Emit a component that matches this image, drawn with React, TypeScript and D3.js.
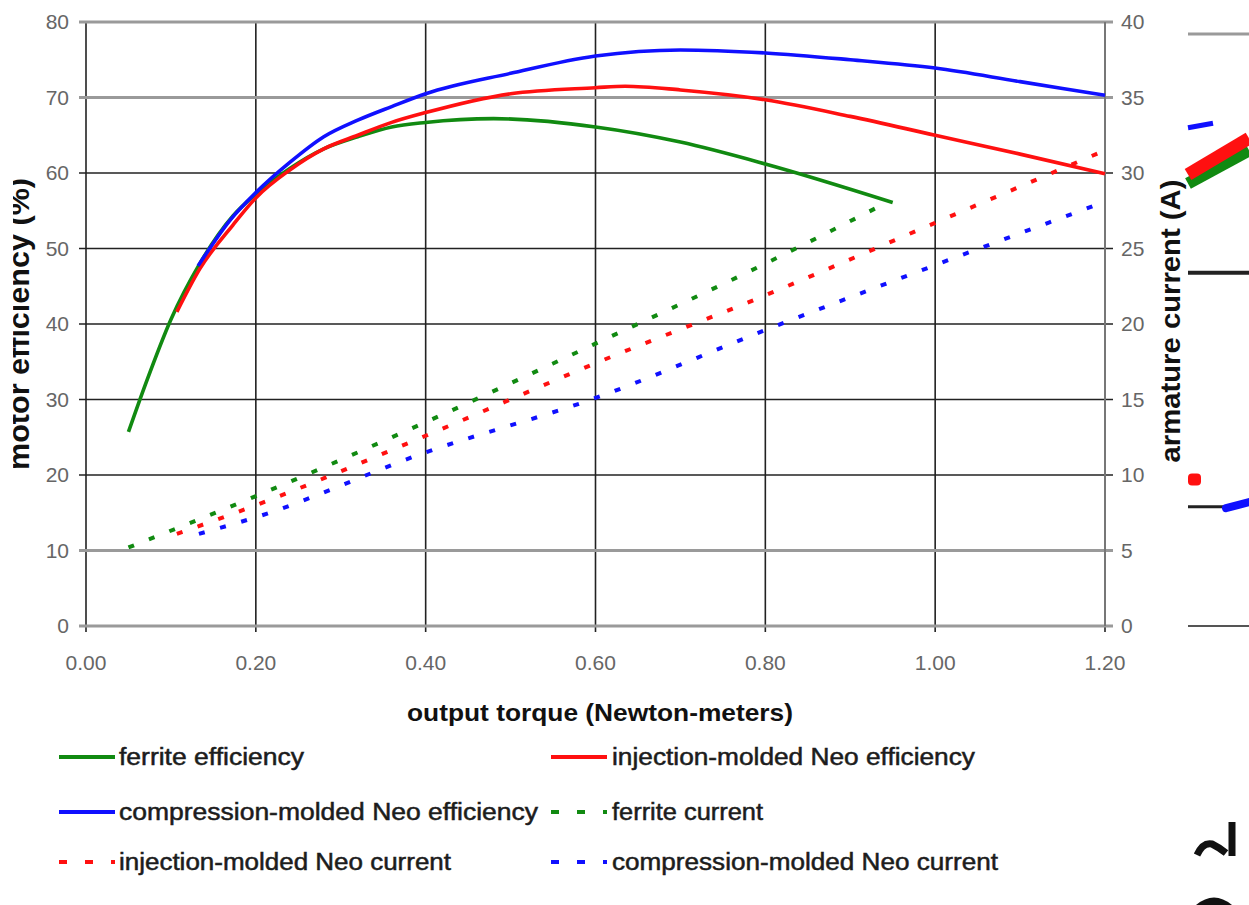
import React from 'react';
import * as d3 from 'd3';

// ---- data ----
const X_TICKS = [0, 0.2, 0.4, 0.6, 0.8, 1.0, 1.2];
const EFF_TICKS = [0, 10, 20, 30, 40, 50, 60, 70, 80];
const CUR_TICKS = [0, 5, 10, 15, 20, 25, 30, 35, 40];

const ferriteEffX = [0.05, 0.07, 0.1, 0.134, 0.173, 0.2, 0.24, 0.28, 0.32, 0.36, 0.4, 0.48, 0.6, 0.7, 0.8, 0.95];
const ferriteEff = [25.7, 32.0, 40.6, 48.0, 54.3, 57.2, 60.6, 63.2, 64.8, 66.1, 66.7, 67.2, 66.1, 64.1, 61.2, 56.1];

const injEffX = [0.107, 0.134, 0.173, 0.2, 0.24, 0.28, 0.32, 0.36, 0.4, 0.5, 0.6, 0.635, 0.7, 0.8, 0.9, 1.0, 1.1, 1.2];
const injEff = [41.6, 47.3, 53.1, 56.7, 60.4, 63.2, 65.0, 66.7, 68.0, 70.5, 71.3, 71.5, 71.0, 69.7, 67.5, 65.0, 62.5, 59.9];

const compEffX = [0.132, 0.17, 0.2, 0.24, 0.28, 0.32, 0.36, 0.4, 0.5, 0.6, 0.7, 0.8, 0.9, 1.0, 1.1, 1.2];
const compEff = [47.7, 53.8, 57.4, 61.4, 64.8, 67.0, 68.8, 70.5, 73.2, 75.5, 76.3, 75.9, 75.0, 73.9, 72.1, 70.3];

const ferriteCurX = [0.05, 0.2, 0.4, 0.6, 0.8, 0.945];
const ferriteCur = [5.2, 8.6, 13.5, 18.7, 24.0, 28.1];
const injCurX = [0.107, 0.2, 0.4, 0.6, 0.8, 1.0, 1.2];
const injCur = [6.1, 8.0, 12.6, 17.4, 21.9, 26.7, 31.5];
const compCurX = [0.133, 0.2, 0.4, 0.6, 0.8, 1.0, 1.2];
const compCur = [6.1, 7.2, 11.5, 15.1, 19.6, 23.9, 28.1];

const LEGEND = [
  'ferrite efficiency',
  'injection-molded Neo efficiency',
  'compression-molded Neo efficiency',
  'ferrite current',
  'injection-molded Neo current',
  'compression-molded Neo current',
];

const GREEN = '#118a11';
const RED = '#ff1010';
const BLUE = '#1010ff';
const FONT = "'Liberation Sans', Arial, sans-serif";

const W = 1249;
const H = 905;

const x = d3.scaleLinear().domain([0, 1.2]).range([86, 1105]);
const yL = d3.scaleLinear().domain([0, 80]).range([626, 22]);
const yR = d3.scaleLinear().domain([0, 40]).range([626, 22]);

const zip = (xs: number[], ys: number[]) => xs.map((v, i) => [v, ys[i]] as [number, number]);

const effLine = d3.line<[number, number]>().x(d => x(d[0])).y(d => yL(d[1])).curve(d3.curveMonotoneX);
const curLine = d3.line<[number, number]>().x(d => x(d[0])).y(d => yR(d[1])).curve(d3.curveMonotoneX);

const series = [
  { d: effLine(zip(ferriteEffX, ferriteEff)), color: GREEN, dashed: false },
  { d: effLine(zip(injEffX, injEff)), color: RED, dashed: false },
  { d: effLine(zip(compEffX, compEff)), color: BLUE, dashed: false },
  { d: curLine(zip(ferriteCurX, ferriteCur)), color: GREEN, dashed: true },
  { d: curLine(zip(injCurX, injCur)), color: RED, dashed: true },
  { d: curLine(zip(compCurX, compCur)), color: BLUE, dashed: true },
];

// legend widths measured on the picture
const legendWidths = [185, 363, 419, 151, 332, 386];

export default function App() {
  const grayGrid = (v: number) => v === 0 || v === 10 || v === 70 || v === 80;
  const legendColors = [GREEN, RED, BLUE, GREEN, RED, BLUE];
  const legendDashed = [false, false, false, true, true, true];

  return (
    <svg
      width={W}
      height={H}
      style={{ position: 'absolute', left: 0, top: 0, background: '#fff' }}
      fontFamily={FONT}
    >
      <defs>
        <clipPath id="leftcut">
          <rect x={13} y={0} width={W} height={H} />
        </clipPath>
      </defs>
      <rect width={W} height={H} fill="#fff" />

      {/* vertical grid */}
      {X_TICKS.map(t => (
        <line key={'vx' + t} x1={x(t)} x2={x(t)} y1={yL(80)} y2={yL(0) + 6} stroke="#222" strokeWidth={1.6} />
      ))}
      {/* horizontal grid */}
      {EFF_TICKS.map(t => (
        <line
          key={'hy' + t}
          x1={x(0) - 7}
          x2={x(1.2) + 8}
          y1={yL(t)}
          y2={yL(t)}
          stroke={grayGrid(t) ? '#9a9a9a' : '#222'}
          strokeWidth={grayGrid(t) ? 3 : 1.6}
        />
      ))}
      <line x1={x(1.2)} x2={x(1.2)} y1={yL(80)} y2={yL(0)} stroke="#777" strokeWidth={2} />

      {/* left tick labels */}
      {EFF_TICKS.map(t => (
        <text key={'ly' + t} x={69} y={yL(t) + 7} textAnchor="end" fontSize={21} fill="#666">
          {t}
        </text>
      ))}
      {/* right tick labels */}
      {CUR_TICKS.map(t => (
        <text key={'ry' + t} x={1121} y={yR(t) + 7} textAnchor="start" fontSize={21} fill="#666">
          {t}
        </text>
      ))}
      {/* x tick labels */}
      {X_TICKS.map(t => (
        <text key={'xt' + t} x={x(t)} y={670} textAnchor="middle" fontSize={21} fill="#666">
          {d3.format('.2f')(t)}
        </text>
      ))}

      {/* series */}
      {series.map((s, i) => (
        <path
          key={'s' + i}
          d={s.d || ''}
          fill="none"
          stroke={s.color}
          strokeWidth={s.dashed ? 4 : 3.6}
          strokeDasharray={s.dashed ? '6,16' : undefined}
        />
      ))}

      {/* axis titles */}
      <text x={600} y={721} textAnchor="middle" fontSize={24} fontWeight="bold" fill="#111" textLength={386} lengthAdjust="spacingAndGlyphs">
        output torque (Newton-meters)
      </text>
      <g clipPath="url(#leftcut)">
        <text
          transform="translate(29,324) rotate(-90)"
          textAnchor="middle"
          fontSize={30}
          fontWeight="bold"
          fill="#111"
          textLength={292}
          lengthAdjust="spacingAndGlyphs"
        >
          motor efficiency (%)
        </text>
      </g>
      <text
        transform="translate(1180,321) rotate(-90)"
        textAnchor="middle"
        fontSize={28}
        fontWeight="bold"
        fill="#111"
        textLength={283}
        lengthAdjust="spacingAndGlyphs"
      >
        armature current (A)
      </text>

      {/* legend */}
      {LEGEND.map((label, i) => {
        const col = i % 2;
        const row = Math.floor(i / 2);
        const lx = col === 0 ? 59 : 551;
        const tx = col === 0 ? 119 : 612;
        const ly = [757, 812, 862][row];
        return (
          <g key={'lg' + i}>
            <line
              x1={lx}
              x2={lx + 56}
              y1={ly}
              y2={ly}
              stroke={legendColors[i]}
              strokeWidth={4}
              strokeDasharray={legendDashed[i] ? '8,18' : undefined}
            />
            <text
              x={tx}
              y={ly + 8}
              fontSize={23}
              fill="#1c1c1c"
              stroke="#1c1c1c"
              strokeWidth={0.5}
              textLength={legendWidths[i]}
              lengthAdjust="spacingAndGlyphs"
            >
              {label}
            </text>
          </g>
        );
      })}

      {/* neighbouring chart, cut off at the right edge */}
      <g>
        <line x1={1188} x2={W} y1={yR(39.2)} y2={yR(39.2)} stroke="#9a9a9a" strokeWidth={3} />
        <line x1={1188} x2={1213} y1={yR(33)} y2={yR(33.3)} stroke={BLUE} strokeWidth={5} />
        <line x1={1188} x2={W} y1={yR(29.3)} y2={yR(31.5)} stroke={GREEN} strokeWidth={12} />
        <line x1={1188} x2={W} y1={yR(29.9)} y2={yR(32.3)} stroke={RED} strokeWidth={13} />
        <line x1={1188} x2={W} y1={yR(23.4)} y2={yR(23.4)} stroke="#222" strokeWidth={4} />
        <rect x={1188} y={yR(10.1)} width={13} height={12} rx={4} fill={RED} />
        <line x1={1188} x2={1228} y1={yR(7.9)} y2={yR(7.9)} stroke="#222" strokeWidth={3} />
        <line x1={1226} x2={W} y1={yR(7.8)} y2={yR(8.2)} stroke={BLUE} strokeWidth={8} strokeLinecap="round" />
        <line x1={1188} x2={W} y1={yR(0)} y2={yR(0)} stroke="#555" strokeWidth={2} />
        <path d="M1197,855 Q1203,842 1212,844 Q1220,848 1226,853 M1232,822 L1232,856" fill="none" stroke="#111" strokeWidth={7} strokeLinejoin="round" />
        <path d="M1196,905 Q1214,890 1232,905 Z" fill="#111" />
      </g>
    </svg>
  );
}
